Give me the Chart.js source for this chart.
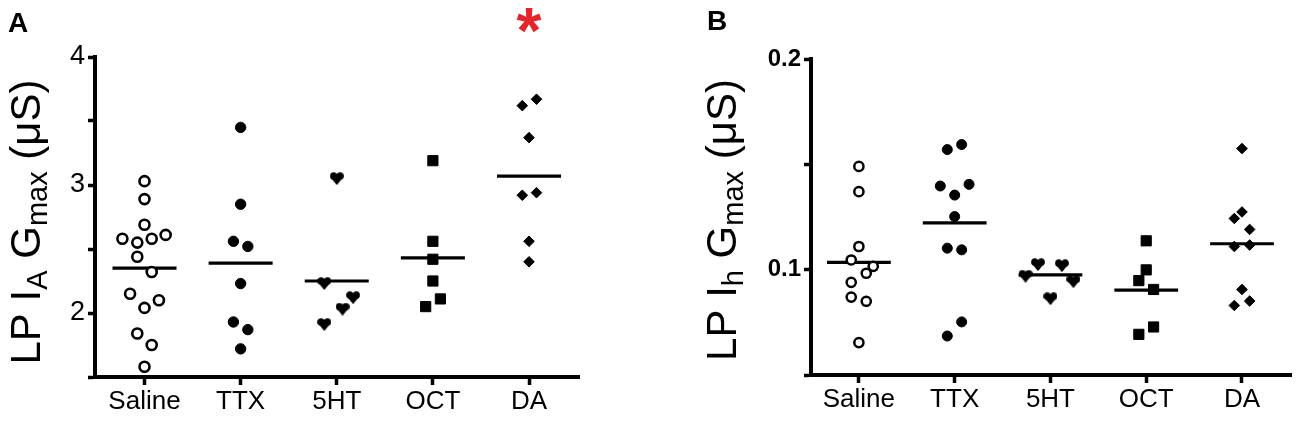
<!DOCTYPE html>
<html>
<head>
<meta charset="utf-8">
<script src="https://cdn.jsdelivr.net/npm/chart.js@4.4.1/dist/chart.umd.min.js"></script>
<style>
  html, body { margin: 0; padding: 0; background: #fff; }
  #wrap { position: relative; width: 1300px; height: 425px; }
  canvas { position: absolute; top: 0; }
</style>
</head>
<body>
<div id="wrap">
  <canvas id="chartA" width="650" height="425" style="left:0"></canvas>
  <canvas id="chartB" width="650" height="425" style="left:650px"></canvas>
</div>
<script>
const categories = ["Saline", "TTX", "5HT", "OCT", "DA"];

// panel A: LP IA Gmax (uS)
const salineA = [3.03, 2.89, 2.69, 2.58, 2.55, 2.58, 2.61, 2.44, 2.32, 2.15, 2.10, 2.04, 1.84, 1.75, 1.58];
const salineAJit = [0, 0, 0, -0.23, -0.075, 0.075, 0.22, -0.075, 0.075, -0.15, 0.15, 0, -0.075, 0.075, 0];
const ttxA = [3.45, 2.85, 2.56, 2.52, 2.23, 1.93, 1.87, 1.72];
const ttxAJit = [0, 0, -0.075, 0.075, 0, -0.075, 0.075, 0];
const serA = [3.05, 2.23, 2.12, 2.03, 1.91];
const serAJit = [0, -0.13, 0.17, 0.06, -0.13];
const octA = [3.19, 2.56, 2.42, 2.25, 2.11, 2.05];
const octAJit = [0, 0, 0, 0, 0.078, -0.075];
const daA = [3.62, 3.67, 3.37, 2.92, 2.94, 2.56, 2.40];
const daAJit = [-0.07, 0.078, 0, -0.07, 0.078, 0, 0];
const meansA = [2.35, 2.39, 2.25, 2.43, 3.07];

// panel B: LP Ih Gmax (uS)
const salineB = [0.149, 0.137, 0.111, 0.1046, 0.1016, 0.0983, 0.094, 0.087, 0.085, 0.0654];
const salineBJit = [0, 0, 0, -0.08, 0.15, 0.077, -0.08, -0.08, 0.077, 0];
const ttxB = [0.157, 0.1594, 0.1397, 0.1405, 0.1354, 0.1252, 0.1102, 0.1094, 0.0752, 0.0685];
const ttxBJit = [-0.077, 0.073, -0.15, 0.15, 0, 0, -0.077, 0.073, 0.073, -0.077];
const serB = [0.0969, 0.1024, 0.0862, 0.1019, 0.0943];
const serBJit = [-0.26, -0.13, 0, 0.12, 0.24];
const octB = [0.1137, 0.0999, 0.0948, 0.0906, 0.0728, 0.0693];
const octBJit = [0, 0, -0.077, 0.077, 0.077, -0.077];
const daB = [0.1575, 0.1274, 0.1243, 0.1191, 0.111, 0.1117, 0.0906, 0.0851, 0.083];
const daBJit = [0, 0, -0.08, 0.08, -0.08, 0.08, 0, 0.08, -0.08];
const meansB = [0.1035, 0.1222, 0.0975, 0.0903, 0.1123];

const FONT = '"Liberation Sans", Arial, sans-serif';

function heart(w, h) {
  const c = document.createElement("canvas");
  c.width = w; c.height = h;
  const g = c.getContext("2d");
  g.fillStyle = "#000";
  const r = w * 0.26;
  g.beginPath(); g.arc(w * 0.27, h * 0.3, r, 0, Math.PI * 2); g.fill();
  g.beginPath(); g.arc(w * 0.73, h * 0.3, r, 0, Math.PI * 2); g.fill();
  g.beginPath();
  g.moveTo(w * 0.02, h * 0.36);
  g.lineTo(w * 0.98, h * 0.36);
  g.lineTo(w * 0.5, h);
  g.closePath();
  g.fill();
  return c;
}

function pts(vals, jit, idx) {
  return vals.map((v, k) => ({ x: idx + 1 + jit[k], y: v }));
}

function groupSets(groups, styles) {
  return groups.map((g, i) => Object.assign({
    type: "scatter",
    data: pts(g[0], g[1], i),
    borderColor: "#000",
    backgroundColor: "#000"
  }, styles[i]));
}

function meanSets(means) {
  return means.map((m, i) => ({
    type: "line",
    data: [{ x: i + 1 - 0.333, y: m }, { x: i + 1 + 0.333, y: m }],
    borderColor: "#000",
    borderWidth: 3.2,
    pointRadius: 0,
    fill: false
  }));
}

const panelText = {
  id: "panelText",
  afterDraw(chart, args, o) {
    const ctx = chart.ctx;
    ctx.save();
    ctx.fillStyle = "#000";
    ctx.textBaseline = "alphabetic";
    ctx.textAlign = "left";
    ctx.font = "bold 28px " + FONT;
    ctx.fillText(o.letter, o.letterX, o.letterY);

    if (o.star) {
      ctx.fillStyle = "#e4262b";
      ctx.font = "bold 64px " + FONT;
      ctx.textAlign = "center";
      const m = ctx.measureText("*");
      const mid = (m.actualBoundingBoxAscent - m.actualBoundingBoxDescent) / 2;
      ctx.fillText("*", chart.scales.x.getPixelForValue(o.star), o.starY + mid);
      ctx.fillStyle = "#000";
      ctx.textAlign = "left";
    }

    ctx.translate(o.titleX, o.titleY);
    ctx.rotate(-Math.PI / 2);
    const big = 42, small = 29;
    let total = 0;
    o.title.forEach(p => {
      ctx.font = (p.sub ? small : big) + "px " + FONT;
      total += ctx.measureText(p.t).width;
    });
    let x = -total / 2;
    o.title.forEach(p => {
      ctx.font = (p.sub ? small : big) + "px " + FONT;
      ctx.fillText(p.t, x, p.sub ? 7 : 0);
      x += ctx.measureText(p.t).width;
    });
    ctx.restore();
  }
};

function makeChart(id, cfg) {
  return new Chart(document.getElementById(id), {
    type: "scatter",
    data: { datasets: groupSets(cfg.groups, cfg.styles).concat(meanSets(cfg.means)) },
    options: {
      responsive: false,
      animation: false,
      events: [],
      layout: { padding: { top: cfg.top, right: cfg.right, left: 0, bottom: 0 } },
      plugins: { legend: { display: false }, tooltip: { enabled: false }, panelText: cfg.text },
      scales: {
        x: {
          type: "linear",
          min: cfg.xMin,
          max: cfg.xMax,
          afterBuildTicks: axis => { axis.ticks = categories.map((c, i) => ({ value: i + 1 })); },
          afterFit: axis => { axis.height = cfg.xHeight; },
          ticks: {
            callback: v => categories[v - 1],
            color: "#000",
            font: { family: FONT, size: 26 },
            padding: 1,
            maxRotation: 0,
            autoSkip: false
          },
          grid: { drawOnChartArea: false, tickLength: 8, tickWidth: 3.5, tickColor: "#000" },
          border: { color: "#000", width: 4 }
        },
        y: {
          min: cfg.yMin,
          max: cfg.yMax,
          afterFit: axis => { axis.width = cfg.yWidth; },
          ticks: {
            stepSize: cfg.yStep,
            callback: cfg.yLabel,
            color: "#000",
            font: cfg.yFont,
            padding: 3
          },
          grid: { drawOnChartArea: false, tickLength: 7, tickWidth: 3.5, tickColor: "#000" },
          border: { color: "#000", width: 4 }
        }
      }
    },
    plugins: [panelText]
  });
}

makeChart("chartA", {
  groups: [[salineA, salineAJit], [ttxA, ttxAJit], [serA, serAJit], [octA, octAJit], [daA, daAJit]],
  styles: [
    { pointStyle: "circle", pointRadius: 5, pointBorderWidth: 2.6, backgroundColor: "#fff" },
    { pointStyle: "circle", pointRadius: 5.2, pointBorderWidth: 1 },
    { pointStyle: heart(14, 13) },
    { pointStyle: "rect", pointRadius: 7.2, pointBorderWidth: 1 },
    { pointStyle: "rectRot", pointRadius: 5.3, pointBorderWidth: 1 }
  ],
  means: meansA,
  top: 57, right: 71, xHeight: 48, yWidth: 95,
  xMin: 0.485, xMax: 5.52,
  yMin: 1.5, yMax: 4, yStep: 0.5,
  yLabel: v => Number.isInteger(v) ? String(v) : "",
  yFont: { family: FONT, size: 27 },
  text: {
    letter: "A", letterX: 8, letterY: 32,
    star: 5, starY: 20,
    titleX: 40, titleY: 222,
    title: [{ t: "LP I" }, { t: "A", sub: true }, { t: " G" }, { t: "max", sub: true }, { t: " (\u03bcS)" }]
  }
});

makeChart("chartB", {
  groups: [[salineB, salineBJit], [ttxB, ttxBJit], [serB, serBJit], [octB, octBJit], [daB, daBJit]],
  styles: [
    { pointStyle: "circle", pointRadius: 4.6, pointBorderWidth: 2.5, backgroundColor: "#fff" },
    { pointStyle: "circle", pointRadius: 5, pointBorderWidth: 1 },
    { pointStyle: heart(14, 13) },
    { pointStyle: "rect", pointRadius: 7.2, pointBorderWidth: 1 },
    { pointStyle: "rectRot", pointRadius: 5.3, pointBorderWidth: 1 }
  ],
  means: meansB,
  top: 59, right: 7, xHeight: 50, yWidth: 161,
  xMin: 0.5, xMax: 5.52,
  yMin: 0.05, yMax: 0.2, yStep: 0.05,
  yLabel: v => Math.abs(v * 10 - Math.round(v * 10)) < 1e-6 ? v.toFixed(1) : "",
  yFont: { family: FONT, size: 24, weight: "bold" },
  text: {
    letter: "B", letterX: 57, letterY: 30,
    titleX: 86, titleY: 220,
    title: [{ t: "LP I" }, { t: "h", sub: true }, { t: " G" }, { t: "max", sub: true }, { t: " (\u03bcS)" }]
  }
});
</script>
</body>
</html>
